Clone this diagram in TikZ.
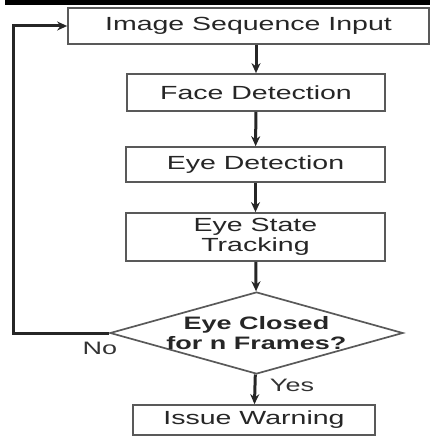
\documentclass[tikz,border=0pt]{standalone}
\usepackage{fontspec}
\newfontfamily\flowfont[FakeStretch=1.5]{Liberation Sans}
\usetikzlibrary{arrows.meta,shapes.geometric}

\begin{document}
\begin{tikzpicture}[x=1pt, y=-1pt,
  box/.style={draw=black!65, line width=1.7pt, fill=white, inner sep=0pt,
    align=center, text=black!85, font=\flowfont\fontsize{19}{19.5}\selectfont},
  decision/.style={diamond, draw=black!65, line width=1.7pt, inner sep=0pt,
    minimum width=293pt, minimum height=82pt},
  answer/.style={text=black!80, font=\flowfont\fontsize{18}{19}\selectfont},
  flow/.style={line width=3pt, draw=black!85, -{Stealth[length=10pt,width=9pt]}},
]
%\draw [help lines] (0,0) grid [step=20] (431,436);
\useasboundingbox (0,0) rectangle (431,436);

\fill [black] (5,0) rectangle (430,5);

\node [box, minimum width=361pt, minimum height=36pt] (input) at (248.5,26) {Image Sequence Input};
\node [box, minimum width=258pt, minimum height=37pt] (face) at (256,92.5) {Face Detection};
\node [box, minimum width=259pt, minimum height=35pt] (eyes) at (255.5,164.5) {Eye Detection};
\node [box, minimum width=259pt, minimum height=48pt] (track) at (255.5,237) {Eye State\\Tracking};
\node [decision] (closed) at (256.5,333) {};
\node [align=center, text=black!85, font=\flowfont\bfseries\fontsize{18}{20}\selectfont] (closedtext) at (closed) {Eye Closed\\for n Frames?};
\node [box, minimum width=242pt, minimum height=30pt] (warn) at (254,420) {Issue Warning};

\node [answer] (no) at (100,348) {No};
\node [answer] (yes) at (292,385) {Yes};

\coordinate (back) at (13,200);

\draw [flow] (input.south -| face.north) -- (face.north);
\draw [flow] (face) -- (eyes);
\draw [flow] (eyes) -- (track);
\draw [flow] (track) -- (closed);
\draw [flow] (closed) -- (warn);
\draw [flow] (closed.west) -| (back) |- (input.west);

\end{tikzpicture}
\end{document}
